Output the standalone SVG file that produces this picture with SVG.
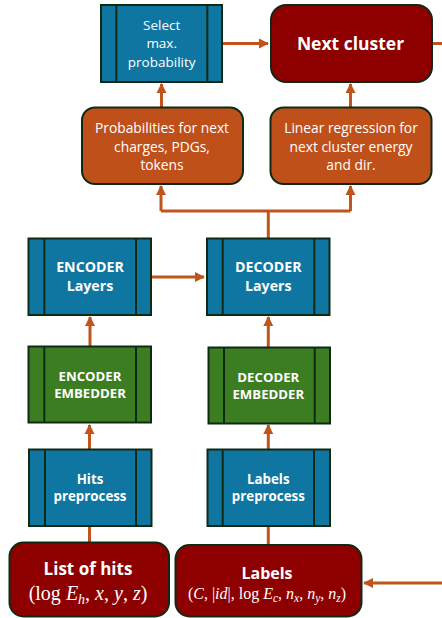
<svg xmlns="http://www.w3.org/2000/svg" width="442" height="618" viewBox="0 0 442 618">
<style>
.blk{fill:#0E76A0;stroke:#0F2A14;stroke-width:2}
.grn{fill:#3C7D22;stroke:#0F2A14;stroke-width:2}
.red{fill:#8E0000;stroke:#0F2A14;stroke-width:2}
.org{fill:#C0501A;stroke:#0F2A14;stroke-width:2}
.div{stroke:#0F2A14;stroke-width:2}
.t{font-family:"Open Sans","Liberation Sans",Arial,sans-serif;fill:#fff;text-anchor:middle}
.b{font-weight:bold}
.m{font-family:"Liberation Serif","DejaVu Serif",serif;fill:#fff;text-anchor:middle}
.c{stroke:#C0541A;stroke-width:3;fill:none}
</style>
<defs>
<marker id="ah" viewBox="0 0 10 10" refX="9" refY="5" markerWidth="3.4" markerHeight="3.4" orient="auto" markerUnits="strokeWidth">
<path d="M0,0 L10,5 L0,10 z" fill="#C0541A"/>
</marker>
</defs>
<g id="connectors">
<path class="c" d="M222,43.5 H268" marker-end="url(#ah)"/>
<path class="c" d="M432,43.5 H442"/>
<path class="c" d="M161.5,107 V84" marker-end="url(#ah)"/>
<path class="c" d="M350.5,107 V84" marker-end="url(#ah)"/>
<path class="c" d="M268.3,238 V211 M161,211 H350.5"/>
<path class="c" d="M161,211 V186" marker-end="url(#ah)"/>
<path class="c" d="M350.5,211 V186" marker-end="url(#ah)"/>
<path class="c" d="M151,277 H204" marker-end="url(#ah)"/>
<path class="c" d="M90,346 V317" marker-end="url(#ah)"/>
<path class="c" d="M268.3,347 V317" marker-end="url(#ah)"/>
<path class="c" d="M89.5,449 V425" marker-end="url(#ah)"/>
<path class="c" d="M268.3,449 V425" marker-end="url(#ah)"/>
<path class="c" d="M89.5,526 V542"/>
<path class="c" d="M268.3,526 V545"/>
<path class="c" d="M442,583 H364" marker-end="url(#ah)"/>
</g>
<g id="select">
<rect class="blk" x="101" y="5" width="121" height="77"/>
<line class="div" x1="116.3" y1="5" x2="116.3" y2="82"/>
<line class="div" x1="207.3" y1="5" x2="207.3" y2="82"/>
<text class="t" font-size="13.5" x="161.7" y="30">Select</text>
<text class="t" font-size="13.5" x="161.7" y="48">max.</text>
<text class="t" font-size="13.5" x="161.7" y="66.5">probability</text>
</g>
<g id="next">
<rect class="red" x="271" y="5" width="161" height="77" rx="15"/>
<text class="t b" font-size="17.5" x="350.5" y="50">Next cluster</text>
</g>
<g id="prob">
<rect class="org" x="82" y="107.5" width="161" height="76.5" rx="13"/>
<text class="t" font-size="13.8" x="162" y="133">Probabilities for next</text>
<text class="t" font-size="13.8" x="162" y="151.5">charges, PDGs,</text>
<text class="t" font-size="13.8" x="162" y="170">tokens</text>
</g>
<g id="linreg">
<rect class="org" x="270.5" y="107.5" width="161" height="76.5" rx="13"/>
<text class="t" font-size="13.8" x="351" y="133">Linear regression for</text>
<text class="t" font-size="13.8" x="351" y="151.5">next cluster energy</text>
<text class="t" font-size="13.8" x="351" y="170">and dir.</text>
</g>
<g id="enc_layers">
<rect class="blk" x="28.5" y="238.5" width="122.5" height="76.5"/>
<line class="div" x1="44.3" y1="238.5" x2="44.3" y2="315"/>
<line class="div" x1="136" y1="238.5" x2="136" y2="315"/>
<text class="t b" font-size="14.2" x="90" y="272">ENCODER</text>
<text class="t b" font-size="14.2" x="90" y="290.5">Layers</text>
</g>
<g id="dec_layers">
<rect class="blk" x="207" y="238.5" width="122.5" height="76.5"/>
<line class="div" x1="222.7" y1="238.5" x2="222.7" y2="315"/>
<line class="div" x1="314.3" y1="238.5" x2="314.3" y2="315"/>
<text class="t b" font-size="14.2" x="268.3" y="272">DECODER</text>
<text class="t b" font-size="14.2" x="268.3" y="290.5">Layers</text>
</g>
<g id="enc_emb">
<rect class="grn" x="28.5" y="346.5" width="122.5" height="76"/>
<line class="div" x1="44.3" y1="346.5" x2="44.3" y2="422.5"/>
<line class="div" x1="136" y1="346.5" x2="136" y2="422.5"/>
<text class="t b" font-size="13.2" x="90" y="381">ENCODER</text>
<text class="t b" font-size="13.2" x="90" y="397.5">EMBEDDER</text>
</g>
<g id="dec_emb">
<rect class="grn" x="208.5" y="347.5" width="121.5" height="76"/>
<line class="div" x1="224" y1="347.5" x2="224" y2="423.5"/>
<line class="div" x1="314.7" y1="347.5" x2="314.7" y2="423.5"/>
<text class="t b" font-size="13.2" x="268.3" y="382">DECODER</text>
<text class="t b" font-size="13.2" x="268.3" y="398.5">EMBEDDER</text>
</g>
<g id="hits_pre">
<rect class="blk" x="29" y="449.5" width="122.5" height="76.5"/>
<line class="div" x1="45" y1="449.5" x2="45" y2="526"/>
<line class="div" x1="136" y1="449.5" x2="136" y2="526"/>
<text class="t b" font-size="13.3" x="90" y="484">Hits</text>
<text class="t b" font-size="13.3" x="90" y="501">preprocess</text>
</g>
<g id="labels_pre">
<rect class="blk" x="207.5" y="449.5" width="122.5" height="76.5"/>
<line class="div" x1="222.7" y1="449.5" x2="222.7" y2="526"/>
<line class="div" x1="314" y1="449.5" x2="314" y2="526"/>
<text class="t b" font-size="13.3" x="268.3" y="484">Labels</text>
<text class="t b" font-size="13.3" x="268.3" y="501">preprocess</text>
</g>
<g id="hits">
<rect class="red" x="9.5" y="542.5" width="159.5" height="74" rx="14"/>
<text class="t b" font-size="17" x="88" y="574.5">List of hits</text>
<text class="m" font-size="20" x="88" y="600">(log <tspan font-style="italic">E</tspan><tspan font-style="italic" font-size="14" dy="4">h</tspan><tspan dy="-4">, </tspan><tspan font-style="italic">x</tspan>, <tspan font-style="italic">y</tspan>, <tspan font-style="italic">z</tspan>)</text>
</g>
<g id="labels">
<rect class="red" x="175.5" y="545" width="186" height="71.5" rx="14"/>
<text class="t b" font-size="16" x="267" y="579">Labels</text>
<text class="m" font-size="16" x="267" y="599">(<tspan font-style="italic">C</tspan>, |<tspan font-style="italic">id</tspan>|, log <tspan font-style="italic">E</tspan><tspan font-style="italic" font-size="11.5" dy="3">c</tspan><tspan dy="-3">, </tspan><tspan font-style="italic">n</tspan><tspan font-style="italic" font-size="11.5" dy="3">x</tspan><tspan dy="-3">, </tspan><tspan font-style="italic">n</tspan><tspan font-style="italic" font-size="11.5" dy="3">y</tspan><tspan dy="-3">, </tspan><tspan font-style="italic">n</tspan><tspan font-style="italic" font-size="11.5" dy="3">z</tspan><tspan dy="-3">)</tspan></text>
</g>
</svg>
